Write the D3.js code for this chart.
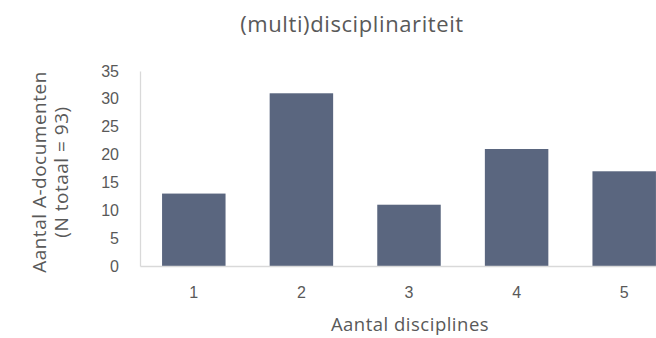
<!DOCTYPE html>
<html>
<head>
<meta charset="utf-8">
<script src="https://cdn.jsdelivr.net/npm/d3@7"></script>
<style>
  html, body { margin: 0; padding: 0; background: #fff; }
  svg { display: block; font-family: "Open Sans", "Noto Sans", sans-serif; }
</style>
</head>
<body>
<svg id="chart" width="656" height="338"></svg>
<script>
// Number of A-documents per number of disciplines
const categories = ["1", "2", "3", "4", "5"];
const counts = [13, 31, 11, 21, 17];
const yTicks = [0, 5, 10, 15, 20, 25, 30, 35];

const svg = d3.select("#chart");
const plotLeft = 140, plotRight = 678, plotTop = 71, plotBottom = 266;

const x = d3.scaleBand().domain(categories).range([plotLeft, plotRight]).paddingInner(0.41).paddingOuter(0.205);
const y = d3.scaleLinear().domain([0, 35]).range([plotBottom, plotTop]);

const textColor = "#595959";

// bars
svg.append("g").selectAll("rect")
  .data(categories)
  .join("rect")
  .attr("x", d => x(d))
  .attr("y", (d, i) => y(counts[i]))
  .attr("width", x.bandwidth())
  .attr("height", (d, i) => y(0) - y(counts[i]))
  .attr("fill", "#5a667f");

// y axis
const yAxis = svg.append("g")
  .attr("transform", `translate(${plotLeft},0)`)
  .call(d3.axisLeft(y).tickValues(yTicks).tickSize(0).tickPadding(21));
yAxis.select(".domain").attr("stroke", "#d9d9d9").attr("stroke-width", 1.3);
yAxis.selectAll("text").attr("fill", textColor).style("font-size", "16px");

// x axis
const xAxis = svg.append("g")
  .attr("transform", `translate(0,${plotBottom})`)
  .call(d3.axisBottom(x).tickSize(0).tickPadding(21));
xAxis.select(".domain").attr("stroke", "#d9d9d9").attr("stroke-width", 1.3);
xAxis.selectAll("text").attr("fill", textColor).style("font-size", "16px");

// title
svg.append("text")
  .attr("x", 352).attr("y", 32)
  .attr("text-anchor", "middle")
  .attr("fill", textColor)
  .style("font-size", "22px")
  .style("letter-spacing", "0.6px")
  .text("(multi)disciplinariteit");

// x axis title
svg.append("text")
  .attr("x", 410).attr("y", 331)
  .attr("text-anchor", "middle")
  .attr("fill", textColor)
  .style("font-size", "18.5px")
  .style("letter-spacing", "0.5px")
  .text("Aantal disciplines");

// y axis title (two lines)
const yt = svg.append("text")
  .attr("transform", "translate(46,172) rotate(-90)")
  .attr("text-anchor", "middle")
  .attr("fill", textColor)
  .style("font-size", "19px")
  .style("letter-spacing", "0.5px");
yt.append("tspan").attr("x", 0).attr("dy", 0).text("Aantal A-documenten");
yt.append("tspan").attr("x", 0).attr("dy", 22).text("(N totaal = 93)");
</script>
</body>
</html>
